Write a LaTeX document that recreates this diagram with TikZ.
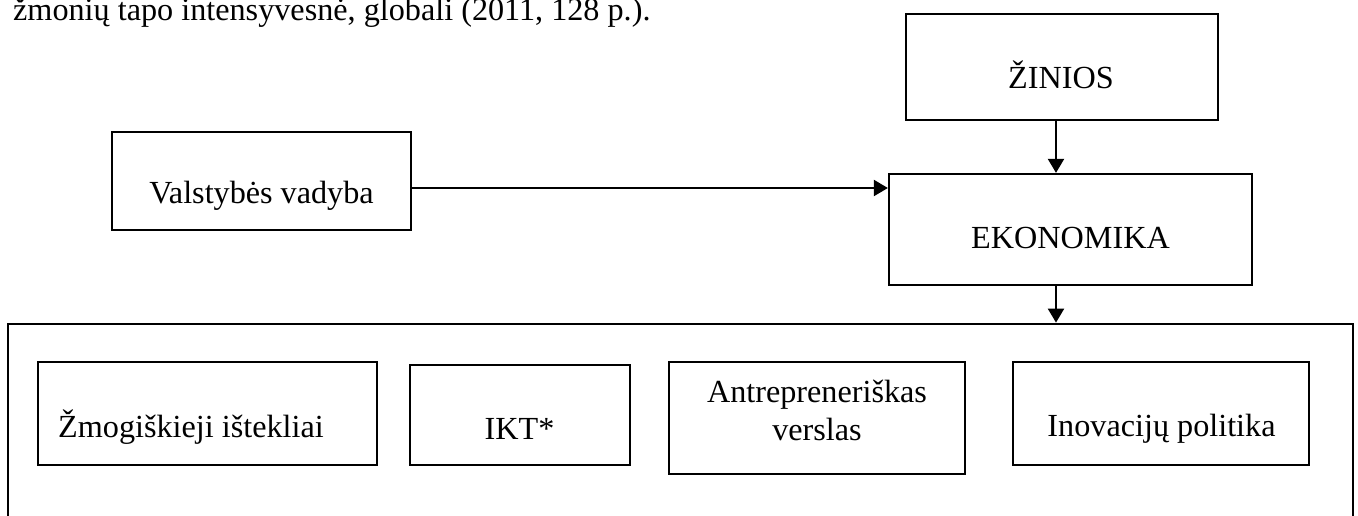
\documentclass[tikz,border=0pt]{standalone}
\usepackage{fontspec}
\setmainfont{Liberation Serif}
\usetikzlibrary{arrows.meta}
\begin{document}
\begin{tikzpicture}[x=1pt,y=-1pt,
  box/.style={draw,line width=2.3pt,inner sep=0pt},
  outer/.style={draw,line width=2.8pt,inner sep=0pt},
  lbl/.style={anchor=base,inner sep=0pt,font=\fontsize{32.2}{38}\selectfont},
  arr/.style={line width=2.3pt,-{Triangle[length=14pt,width=16pt]}}]
\useasboundingbox (0,0) rectangle (1358,515);
\clip (0,0) rectangle (1358,515);

% closing line of the preceding paragraph
\node[lbl,anchor=base west] (prev) at (13,20) {žmonių tapo intensyvesnė, globali (2011, 128 p.).};

% upper blocks
\node[box,minimum width=312pt,minimum height=106pt] (zin) at (1062,67) {};
\node[lbl] (zint) at (1061,88) {ŽINIOS};

\node[box,minimum width=299pt,minimum height=98pt] (val) at (261.5,181) {};
\node[lbl] (valt) at (261.5,203) {Valstybės vadyba};

\node[box,minimum width=363pt,minimum height=111pt] (eko) at (1070.5,229.5) {};
\node[lbl] (ekot) at (1070.5,248) {EKONOMIKA};

% enclosing frame with the four components
\node[outer,minimum width=1345pt,minimum height=216pt] (big) at (680.5,432) {};

\node[box,minimum width=339pt,minimum height=103pt] (zmo) at (207.5,413.5) {};
\node[lbl,anchor=base west] (zmot) at (58,437) {Žmogiškieji ištekliai};

\node[box,minimum width=220pt,minimum height=100pt] (ikt) at (520,415) {};
\node[lbl] (iktt) at (519.5,439) {IKT*};

\node[box,minimum width=296pt,minimum height=112pt] (ant) at (817,418) {};
\node[lbl,align=center] (antt) at (817,440) {Antrepreneriškas\\verslas};

\node[box,minimum width=296pt,minimum height=103pt] (ino) at (1161,413.5) {};
\node[lbl] (inot) at (1161.5,436) {Inovacijų politika};

% connectors
\coordinate (ax) at (1056,0);
\coordinate (ay) at (0,188);
\draw[arr] (zin.south -| ax) -- (eko.north -| ax);
\draw[arr] (val.east |- ay) -- (eko.west |- ay);
\draw[arr] (eko.south -| ax) -- (big.north -| ax);
\end{tikzpicture}
\end{document}
